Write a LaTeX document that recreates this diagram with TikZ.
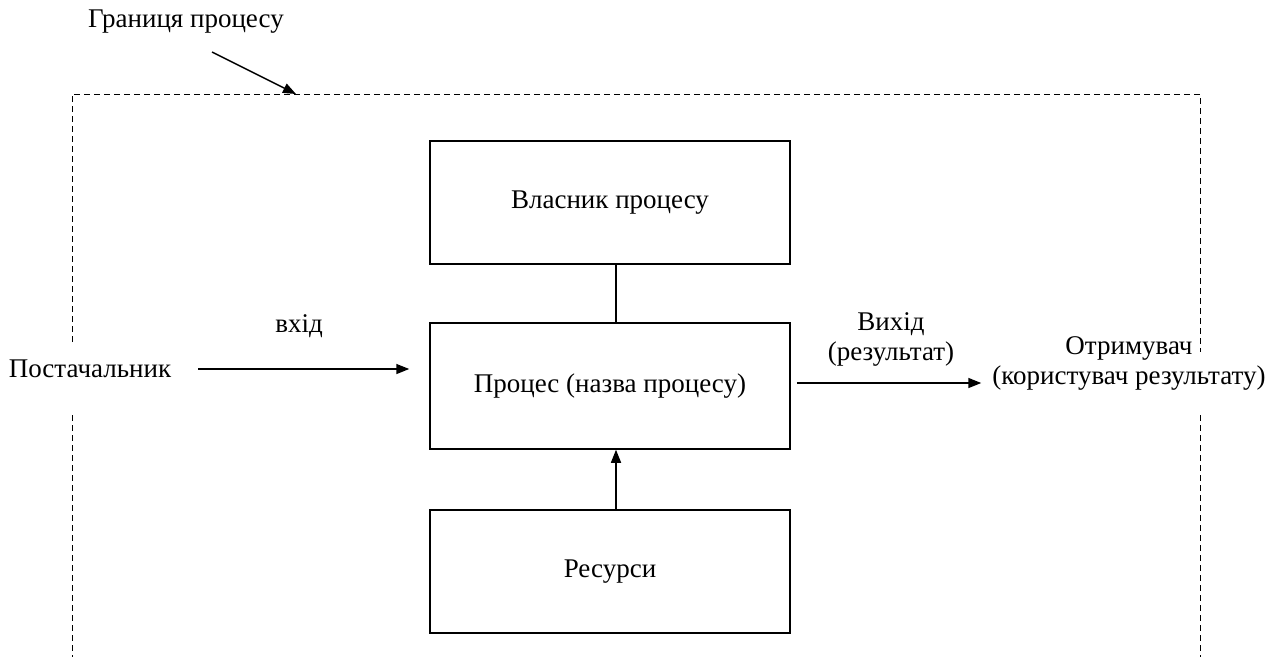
\documentclass[tikz,border=0pt]{standalone}
\usepackage{fontspec}
\setmainfont{Liberation Serif}
\usetikzlibrary{arrows.meta,calc}
\begin{document}
\begin{tikzpicture}[x=1pt,y=-1pt,
  every node/.style={font=\fontsize{27}{30}\selectfont},
  box/.style={draw,line width=1.5pt,minimum width=360pt,minimum height=123pt,inner sep=0pt,anchor=center},
  lbl/.style={inner sep=0pt,align=center},
  conn/.style={line width=1.5pt},
  arr/.style={line width=1.5pt,-{Triangle[length=13pt,width=10pt]}},
  bound/.style={line width=1pt,dash pattern=on 6pt off 4pt}]
\useasboundingbox (0,0) rectangle (1273,657);
% process boundary (open at the bottom)
\draw[bound] (72,342) -- (72,94) -- (1200,94) -- (1200,352);
\draw[bound] (72,415) -- (72,657);
\draw[bound] (1200,415) -- (1200,657);
% boxes
\node[box,minimum height=123pt] (owner) at (610,202.5) {Власник процесу};
\node[box,minimum height=126pt] (proc) at (610,386) {\raisebox{4pt}{Процес (назва процесу)}};
\node[box,minimum height=123pt] (res) at (610,571.5) {Ресурси};
\draw[conn] ([xshift=6pt]owner.south) -- ([xshift=6pt]proc.north);
\draw[arr] ([xshift=6pt]res.north) -- ([xshift=6pt]proc.south);
% labels
\node[lbl] (bnd) at (186,22) {Границя процесу};
\node[lbl] (sup) at (90,369) {Постачальник};
\node[lbl] (in) at (299,326) {вхід};
\node[lbl] (out) at (891,339) {Вихід\\(результат)};
\node[lbl] (recv) at (1129,363) {Отримувач\\(користувач результату)};
% connectors
\coordinate (bs) at (212,52);
\coordinate (bt) at (296,94);
\draw[arr] (bs) -- (bt);
\draw[arr,shorten <=27pt,shorten >=20pt] (sup.east) -- (sup.east -| proc.west);
\draw[arr,shorten >=11pt] ([xshift=6pt]proc.east |- 0,383) -- (recv.west |- 0,383);
\end{tikzpicture}
\end{document}
